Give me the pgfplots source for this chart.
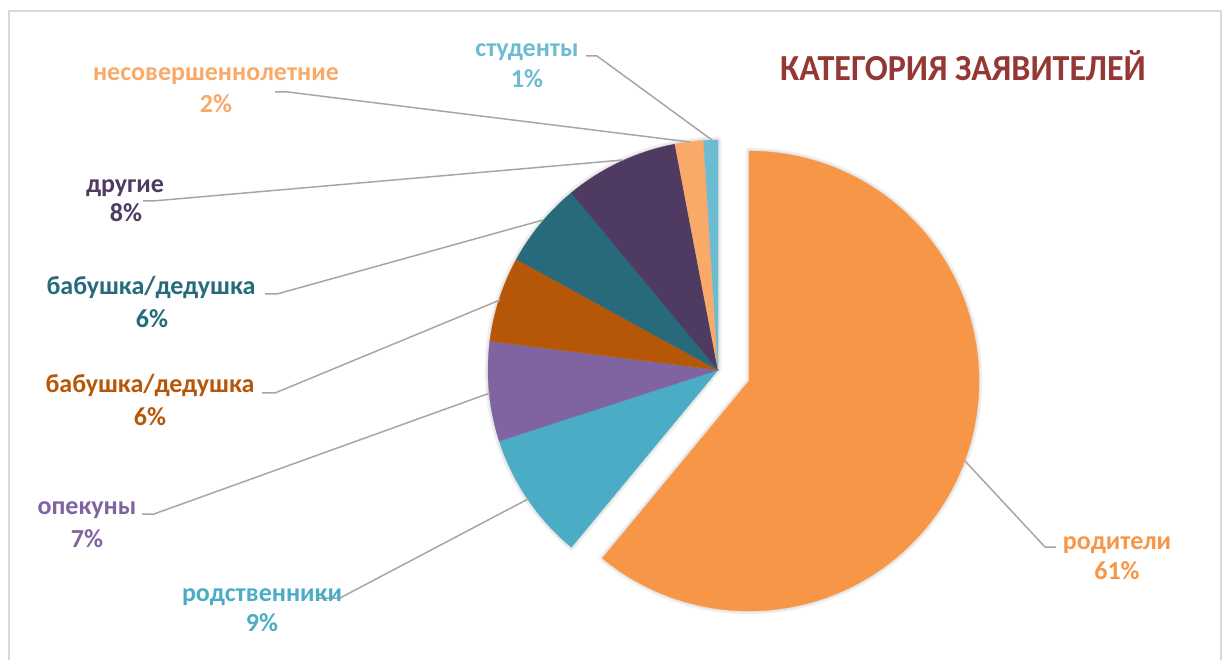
\documentclass[border=0pt]{standalone}
\usepackage{fontspec}
\setmainfont{Carlito}
\usepackage{pgfplots}
\pgfplotsset{compat=1.18}

\definecolor{cPar}{HTML}{F79646}
\definecolor{cRel}{HTML}{4BACC6}
\definecolor{cGua}{HTML}{8064A2}
\definecolor{cGr1}{HTML}{B65708}
\definecolor{cGr2}{HTML}{276A7C}
\definecolor{cOth}{HTML}{4F3B62}
\definecolor{cMin}{HTML}{F9A968}
\definecolor{cStu}{HTML}{6CBCD1}
\definecolor{cTitle}{HTML}{953735}
\definecolor{cLead}{HTML}{A6A6A6}
\definecolor{cFrame}{HTML}{D9D9D9}

\tikzset{
  lbl/.style={font=\bfseries\fontsize{26}{31}\selectfont, anchor=base},
  leader/.style={cLead, line width=1.5pt},
  shade1/.style={draw=black, draw opacity=0.05, line width=7pt, fill=none, line join=round},
  shade2/.style={draw=black, draw opacity=0.06, line width=3.5pt, fill=none, line join=round},
}

\begin{document}
\begin{tikzpicture}
\begin{axis}[
    width=1227pt, height=660pt, scale only axis,
    xmin=0, xmax=1227, ymin=0, ymax=660, y dir=reverse,
    hide axis, clip=false,
]
% soft shadow under the pie
\addplot[shade1, domain=-270:-129.6, samples=80]
  ({718+230*cos(x)}, {370-230*sin(x)}) -- (718,370) -- cycle;
\addplot[shade2, domain=-270:-129.6, samples=80]
  ({718+230*cos(x)}, {370-230*sin(x)}) -- (718,370) -- cycle;
\addplot[shade1, domain=-129.6:90, samples=120]
  ({749+230*cos(x)}, {381-230*sin(x)}) -- (749,381) -- cycle;
\addplot[shade2, domain=-129.6:90, samples=120]
  ({749+230*cos(x)}, {381-230*sin(x)}) -- (749,381) -- cycle;

% shares (%): 61, 9, 7, 6, 6, 8, 2, 1 -- clockwise from 12 o'clock, 3.6 deg per %
% родители 61% (exploded)
\addplot[fill=cPar, draw=cPar, line width=0.3pt, domain=-129.6:90, samples=160]
  ({749+230*cos(x)}, {381-230*sin(x)}) -- (749,381) -- cycle;
% родственники 9%
\addplot[fill=cRel, draw=cRel, line width=0.3pt, domain=-162:-129.6, samples=30]
  ({718+230*cos(x)}, {370-230*sin(x)}) -- (718,370) -- cycle;
% опекуны 7%
\addplot[fill=cGua, draw=cGua, line width=0.3pt, domain=-187.2:-162, samples=25]
  ({718+230*cos(x)}, {370-230*sin(x)}) -- (718,370) -- cycle;
% бабушка/дедушка 6%
\addplot[fill=cGr1, draw=cGr1, line width=0.3pt, domain=-208.8:-187.2, samples=20]
  ({718+230*cos(x)}, {370-230*sin(x)}) -- (718,370) -- cycle;
% бабушка/дедушка 6%
\addplot[fill=cGr2, draw=cGr2, line width=0.3pt, domain=-230.4:-208.8, samples=20]
  ({718+230*cos(x)}, {370-230*sin(x)}) -- (718,370) -- cycle;
% другие 8%
\addplot[fill=cOth, draw=cOth, line width=0.3pt, domain=-259.2:-230.4, samples=25]
  ({718+230*cos(x)}, {370-230*sin(x)}) -- (718,370) -- cycle;
% несовершеннолетние 2%
\addplot[fill=cMin, draw=cMin, line width=0.3pt, domain=-266.4:-259.2, samples=8]
  ({718+230*cos(x)}, {370-230*sin(x)}) -- (718,370) -- cycle;
% студенты 1%
\addplot[fill=cStu, draw=cStu, line width=0.3pt, domain=-270:-266.4, samples=5]
  ({718+230*cos(x)}, {370-230*sin(x)}) -- (718,370) -- cycle;

% leader lines
\addplot[leader, no marks] coordinates {(1056,547) (1045,547) (965,461)};
\addplot[leader, no marks] coordinates {(317,598) (340,598) (528,499)};
\addplot[leader, no marks] coordinates {(142,514) (154,514) (490,393)};
\addplot[leader, no marks] coordinates {(262,393) (275,393) (500,300)};
\addplot[leader, no marks] coordinates {(265,294) (277,294) (543,220)};
\addplot[leader, no marks] coordinates {(143,201) (153,201) (623,160)};
\addplot[leader, no marks] coordinates {(275,92) (288,92) (690,142)};
\addplot[leader, no marks] coordinates {(586,56) (597,56) (712,140)};

% labels
\node[lbl, text=cPar] at (1117,549) {родители};
\node[lbl, text=cPar] at (1117,579) {61\%};
\node[lbl, text=cRel] at (262,601) {родственники};
\node[lbl, text=cRel] at (262,631) {9\%};
\node[lbl, text=cGua] at (87,514) {опекуны};
\node[lbl, text=cGua] at (87,547) {7\%};
\node[lbl, text=cGr1] at (150,393) {бабушка/дедушка};
\node[lbl, text=cGr1] at (150,425) {6\%};
\node[lbl, text=cGr2] at (151,295) {бабушка/дедушка};
\node[lbl, text=cGr2] at (152,328) {6\%};
\node[lbl, text=cOth] at (125,193) {другие};
\node[lbl, text=cOth] at (126,222) {8\%};
\node[lbl, text=cMin] at (216,81) {несовершеннолетние};
\node[lbl, text=cMin] at (216,113) {2\%};
\node[lbl, text=cStu] at (527,57) {студенты};
\node[lbl, text=cStu] at (527,88) {1\%};

% title
\node[anchor=base, text=cTitle, font=\bfseries\fontsize{34}{40}\selectfont, yscale=1.08] at (963,81) {КАТЕГОРИЯ ЗАЯВИТЕЛЕЙ};

% chart frame
\draw[cFrame, line width=1.2pt] (9,660) -- (9,11) -- (1221,11) -- (1221,660);
\end{axis}
\pgfresetboundingbox
\path (current axis.south west) rectangle (current axis.north east);
\end{tikzpicture}
\end{document}
